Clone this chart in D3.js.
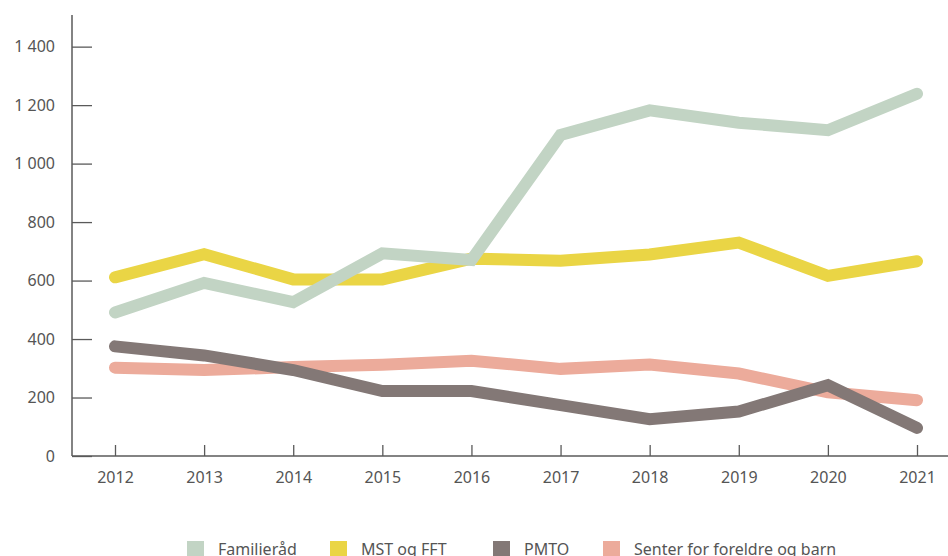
<!DOCTYPE html>
<html><head><meta charset="utf-8">
<script src="https://cdn.jsdelivr.net/npm/d3@7"></script>
<style>body{margin:0;background:#fff}svg{display:block}</style>
</head><body>
<svg id="c" width="948" height="556"></svg>
<script>
const years = [2012,2013,2014,2015,2016,2017,2018,2019,2020,2021];
const familierad = [491,592,526,693,670,1098,1182,1140,1114,1239];
const mstFft = [611,690,604,604,675,668,689,730,616,666];
const pmto = [375,344,294,222,222,174,126,152,242,96];
const senter = [302,294,304,312,326,298,313,282,218,191];
const seriesNames = ["Familieråd","MST og FFT","PMTO","Senter for foreldre og barn"];
const seriesColors = ["#c2d4c4","#ead545","#837876","#ecab9b"];
const yTicks = [0,200,400,600,800,1000,1200,1400];

const svg = d3.select("#c");
const x = d3.scalePoint().domain(years).range([115,917]);
const y = d3.scaleLinear().domain([0,1500]).range([456,17.4]);
const font = "'Noto Sans', sans-serif";
const axisCol = "#5a5a5a";

// y axis
const ya = svg.append("g").attr("transform","translate(72,0)")
  .call(d3.axisRight(y).tickValues(yTicks).tickSize(20).tickPadding(0)
    .tickFormat(d=>d3.format(",")(d).replace(/,/g," ")));
ya.select(".domain").remove();
ya.selectAll(".tick line").attr("stroke",axisCol).attr("stroke-width",1.3);
ya.selectAll(".tick text").attr("x",-17).attr("text-anchor","end")
  .attr("font-family",font).attr("font-size",16).attr("fill","#555");
svg.append("line").attr("x1",72).attr("x2",72).attr("y1",15).attr("y2",456)
  .attr("stroke",axisCol).attr("stroke-width",1.5);

// x axis
const xa = svg.append("g").attr("transform","translate(0,456)")
  .call(d3.axisTop(x).tickSize(11).tickFormat(d3.format("d")));
xa.select(".domain").remove();
xa.selectAll(".tick line").attr("stroke",axisCol).attr("stroke-width",1.3);
xa.selectAll(".tick text").attr("y",27).attr("dy",0)
  .attr("font-family",font).attr("font-size",16).attr("fill","#555");
svg.append("line").attr("x1",72).attr("x2",948).attr("y1",456).attr("y2",456)
  .attr("stroke",axisCol).attr("stroke-width",1.5);

// lines (drawn back-to-front)
const data = [familierad,mstFft,pmto,senter];
const line = d3.line().x((d,i)=>x(years[i])).y(d=>y(d));
[3,2,1,0].forEach(k=>{
  svg.append("path").datum(data[k]).attr("d",line)
    .attr("fill","none").attr("stroke",seriesColors[k]).attr("stroke-width",12)
    .attr("stroke-linecap","round").attr("stroke-linejoin","miter");
});

// legend
const legX = [187,330,493,603];
seriesNames.forEach((n,i)=>{
  svg.append("rect").attr("x",legX[i]).attr("y",541).attr("width",17).attr("height",17)
    .attr("fill",seriesColors[i]);
  svg.append("text").attr("x",legX[i]+31).attr("y",555).text(n)
    .attr("font-family",font).attr("font-size",16).attr("fill","#555");
});
</script>
</body></html>
